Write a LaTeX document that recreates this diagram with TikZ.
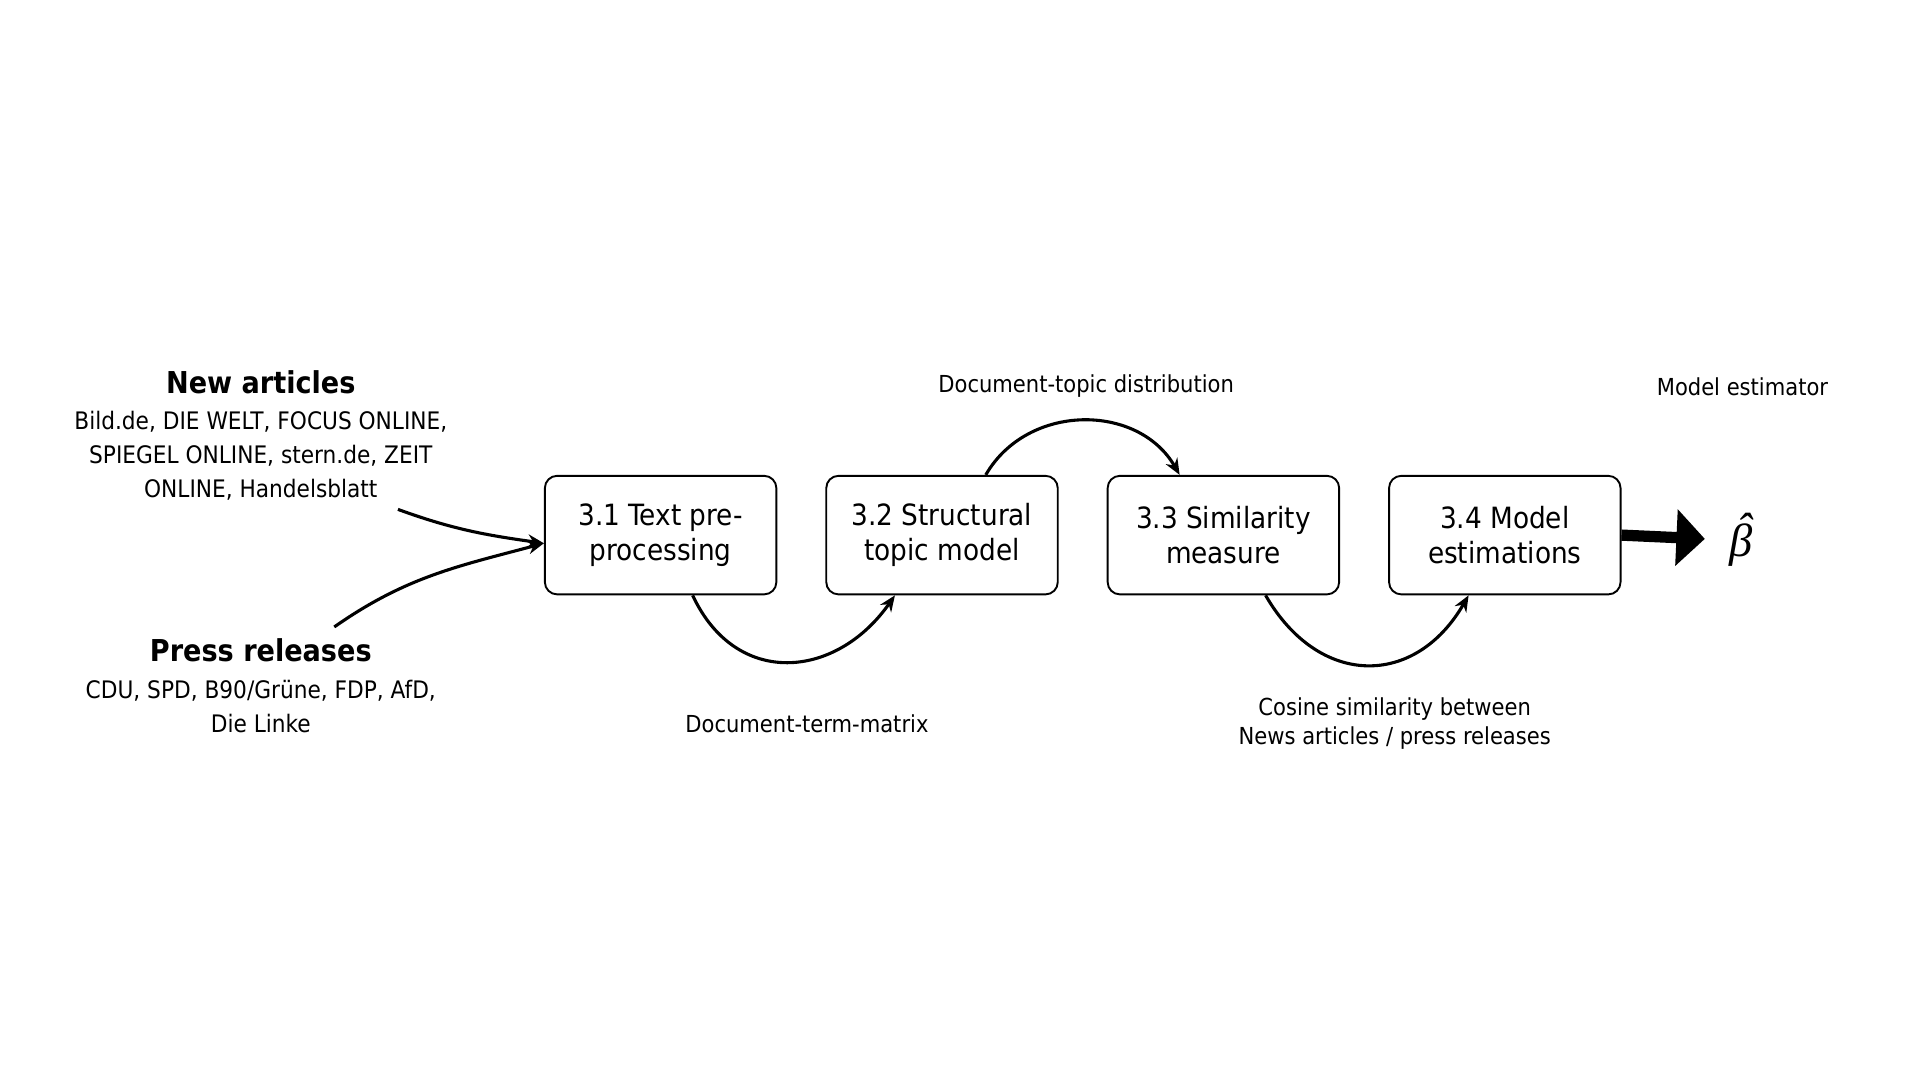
\RequirePackage{fix-cm}
\documentclass[tikz,border=0pt]{standalone}
\usepackage{fontspec}
\setmainfont{DejaVu Sans Condensed}
\newfontfamily\betafont{Liberation Serif}
\usetikzlibrary{positioning,calc,arrows.meta}

\begin{document}
\begin{tikzpicture}[x=0.025cm, y=0.025cm,
    stage/.style={draw, line width=1.1pt, rounded corners=0.25cm, minimum width=4.725cm, minimum height=2.42cm, align=center, font=\fontsize{17}{20.5}\selectfont},
    note/.style={align=center, font=\fontsize{13.6}{19.8}\selectfont},
    head/.style={font=\bfseries\fontsize{17.5}{20}\selectfont},
    flow/.style={line width=1.8pt, -{Stealth[length=0.33cm, width=0.27cm]}},
    bigarrow/.style={line width=0.23cm, -{Triangle[length=0.58cm, width=1.125cm]}}]
    \useasboundingbox (0,0) rectangle (1568,-882);

    % Sources
    \node[head] (newhd) at (213,-312) {New articles};
    \node[note, font=\fontsize{14}{19.8}\selectfont] (newls) at (213,-372) {Bild.de, DIE WELT, FOCUS ONLINE,\\SPIEGEL ONLINE, stern.de, ZEIT\\ONLINE, Handelsblatt};
    \node[head] (preshd) at (213,-531) {Press releases};
    \node[note, font=\fontsize{14}{19.8}\selectfont] (presls) at (213,-577) {CDU, SPD, B90/Grüne, FDP, AfD,\\Die Linke};

    % Pipeline stages
    \node[stage] (s31) at (539.5,-437) {3.1 Text pre-\\processing};
    \node[stage, right=0.98cm of s31] (s32) {3.2 Structural\\topic model};
    \node[stage, right=0.98cm of s32] (s33) {3.3 Similarity\\measure};
    \node[stage, right=0.98cm of s33] (s34) {3.4 Model\\estimations};
    \node[inner sep=0pt, font=\betafont\itshape\fontsize{27}{30}\selectfont] (beta) at (1422,-441) {\accent"02C6 β};

    % Labels of the intermediate results
    \node[note] (dtm) at (659,-591) {Document-term-matrix};
    \node[note] (dtd) at (887,-315) {Document-topic distribution};
    \node[note, font=\fontsize{13.6}{17}\selectfont] (cos) at (1139,-591) {Cosine similarity between\\News articles / press releases};
    \node[note] (est) at (1423,-316) {Model estimator};

    % Inputs
    \coordinate (na) at (325,-416);
    \coordinate (pr) at (273,-512);
    \draw[flow] (na) to[out=-20, in=172] (s31.184);
    \draw[flow] (pr) to[out=35, in=195] (s31.184);

    % Flow between stages
    \draw[flow] (s31.-62) to[out=-65, in=-125, looseness=1.3] (s32.-128);
    \draw[flow] (s32.54) to[out=60, in=120, looseness=1.1] (s33.126);
    \draw[flow] (s33.-55) to[out=-60, in=-120, looseness=1.35] (s34.-121);
    \draw[bigarrow, shorten >=0.5cm] (s34.east) -- (beta.west);
\end{tikzpicture}
\end{document}
